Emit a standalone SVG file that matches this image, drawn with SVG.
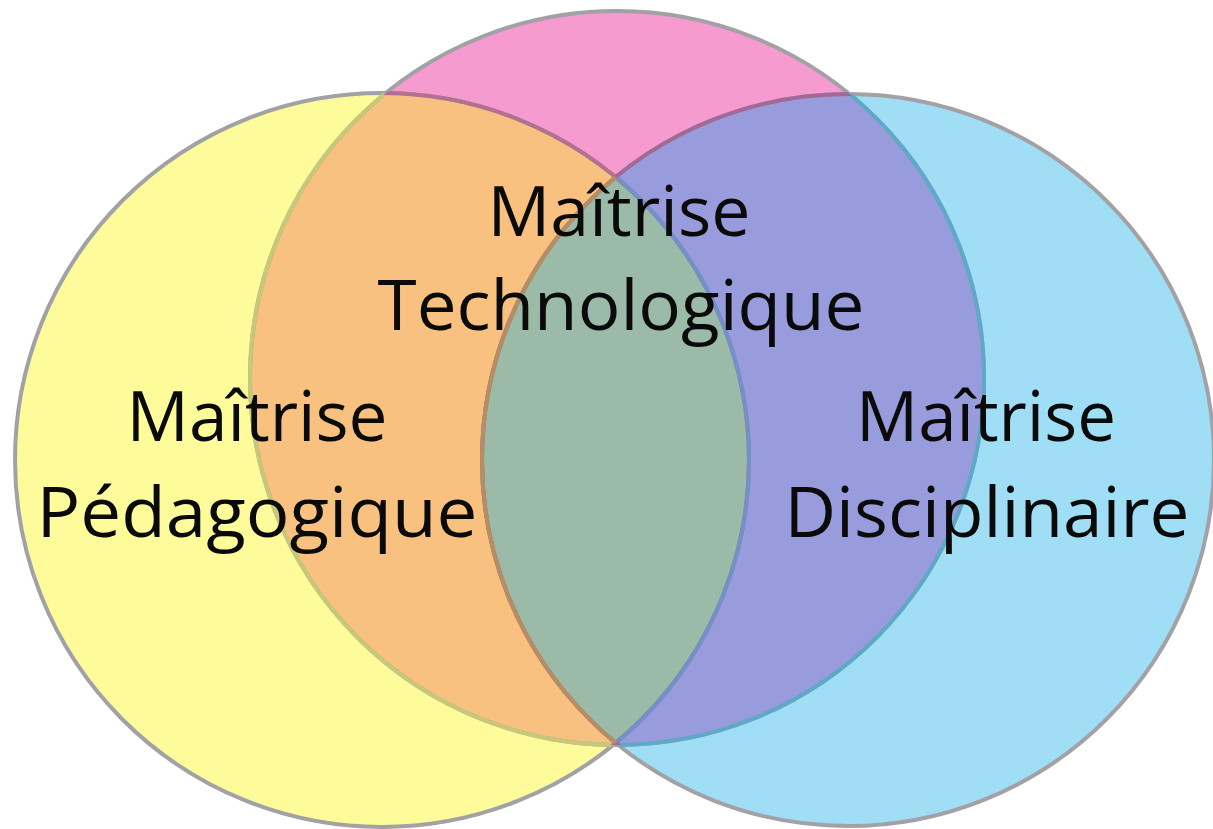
<svg xmlns="http://www.w3.org/2000/svg" width="1213" height="829" viewBox="0 0 1213 829">
<style>
.lbl{font-family:"Open Sans","Noto Sans","DejaVu Sans",sans-serif;font-size:70px;fill:#0a0a0a;text-anchor:middle}
.st{fill:none;stroke-width:4}
</style>
<defs>
<circle id="cy" cx="382" cy="460" r="367"/>
<circle id="cp" cx="617" cy="378" r="367"/>
<circle id="cb" cx="848" cy="460" r="366"/>
<clipPath id="kY"><use href="#cy"/></clipPath>
<clipPath id="kP"><use href="#cp"/></clipPath>
<clipPath id="kB"><use href="#cb"/></clipPath>
</defs>
<rect width="1213" height="829" fill="#ffffff"/>
<g id="node-pedagogique">
<use href="#cy" fill="#FDFB9A"/>
</g>
<g id="node-technologique">
<use href="#cp" fill="#F59BD0"/>
</g>
<g id="node-disciplinaire">
<use href="#cb" fill="#A0DEF6"/>
</g>
<g id="overlaps">
<g clip-path="url(#kP)"><use href="#cy" fill="#F8C17F"/></g>
<g clip-path="url(#kB)"><use href="#cp" fill="#989CDC"/></g>
<g clip-path="url(#kB)"><use href="#cy" fill="#A8D6BC"/></g>
<g clip-path="url(#kB)"><g clip-path="url(#kP)"><use href="#cy" fill="#9BBBA8"/></g></g>
</g>
<g id="connectors">
<use href="#cy" class="st" stroke="#A2A2A6"/>
<use href="#cp" class="st" stroke="#A2A2A6"/>
<use href="#cb" class="st" stroke="#A2A2A6"/>
<g clip-path="url(#kY)"><use href="#cp" class="st" stroke="#C9C878"/></g>
<g clip-path="url(#kB)"><use href="#cp" class="st" stroke="#5EA9C9"/></g>
<g clip-path="url(#kP)"><use href="#cy" class="st" stroke="#B3708F"/></g>
<g clip-path="url(#kB)"><use href="#cy" class="st" stroke="#7092C8"/></g>
<g clip-path="url(#kP)"><use href="#cb" class="st" stroke="#A2689A"/></g>
<g clip-path="url(#kY)"><use href="#cb" class="st" stroke="#B68E62"/></g>
</g>
<g id="labels">
<text class="lbl" x="619" y="236" textLength="263" lengthAdjust="spacingAndGlyphs">Maîtrise</text>
<text class="lbl" x="621" y="330" textLength="487" lengthAdjust="spacingAndGlyphs">Technologique</text>
<text class="lbl" x="257" y="441" textLength="261" lengthAdjust="spacingAndGlyphs">Maîtrise</text>
<text class="lbl" x="257" y="537" textLength="441" lengthAdjust="spacingAndGlyphs">Pédagogique</text>
<text class="lbl" x="986" y="441" textLength="260" lengthAdjust="spacingAndGlyphs">Maîtrise</text>
<text class="lbl" x="987" y="537" textLength="405" lengthAdjust="spacingAndGlyphs">Disciplinaire</text>
</g>
</svg>
